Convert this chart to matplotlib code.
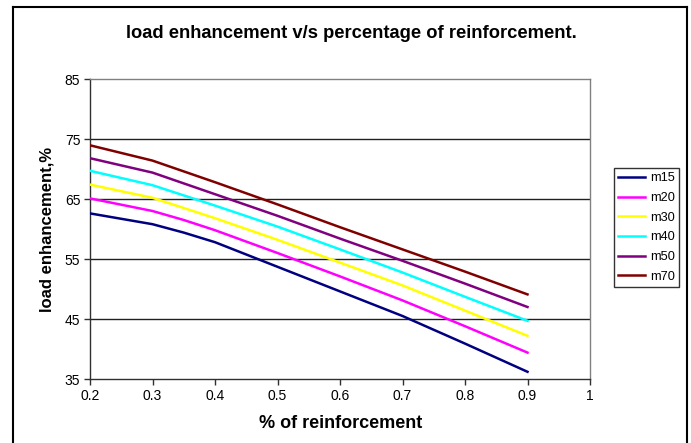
import matplotlib
matplotlib.use("Agg")
import matplotlib.pyplot as plt
from matplotlib.lines import Line2D

reinforcement = [0.2, 0.3, 0.35, 0.4, 0.5, 0.6, 0.7, 0.8, 0.9]
m15 = [62.6, 60.8, 59.4, 57.8, 53.7, 49.6, 45.5, 40.9, 36.2]
m20 = [65.1, 63.0, 61.5, 59.8, 56.0, 52.1, 48.1, 43.8, 39.4]
m30 = [67.4, 65.2, 63.5, 61.8, 58.2, 54.4, 50.6, 46.4, 42.2]
m40 = [69.7, 67.3, 65.6, 63.9, 60.4, 56.6, 52.75, 48.7, 44.7]
m50 = [71.8, 69.4, 67.6, 65.8, 62.2, 58.4, 54.7, 50.9, 47.0]
m70 = [73.95, 71.4, 69.6, 67.8, 64.1, 60.3, 56.6, 52.9, 49.1]

series_names = ["m15", "m20", "m30", "m40", "m50", "m70"]
series_values = [m15, m20, m30, m40, m50, m70]
series_colors = ["#000080", "#FF00FF", "#FFFF00", "#00FFFF", "#800080", "#800000"]

x_ticks = [0.2, 0.3, 0.4, 0.5, 0.6, 0.7, 0.8, 0.9, 1.0]
x_tick_labels = ["0.2", "0.3", "0.4", "0.5", "0.6", "0.7", "0.8", "0.9", "1"]
y_ticks = [35, 45, 55, 65, 75, 85]

plt.rcParams["font.family"] = ["Liberation Sans", "DejaVu Sans"]

W, H = 691, 443
fig = plt.figure(figsize=(W / 100, H / 100), dpi=100)
fig.patch.set_facecolor("white")

# outer chart frame
frame_l, frame_r, frame_t = 13 / W, 687 / W, 1 - 7 / H
for xs, ys in [([frame_l, frame_r], [frame_t, frame_t]),
               ([frame_l, frame_l], [frame_t, -0.05]),
               ([frame_r, frame_r], [frame_t, -0.05])]:
    fig.add_artist(Line2D(xs, ys, transform=fig.transFigure,
                          color="black", lw=1.5, clip_on=False))

ax = fig.add_axes([90 / W, 1 - 379 / H, 500 / W, 300 / H])
ax.set_facecolor("white")

for name, vals, col in zip(series_names, series_values, series_colors):
    ax.plot(reinforcement, vals, color=col, lw=1.8, label=name,
            solid_joinstyle="miter", zorder=3)

ax.set_xlim(0.2, 1.0)
ax.set_ylim(35, 85)
ax.set_xticks(x_ticks)
ax.set_xticklabels(x_tick_labels)
ax.set_yticks(y_ticks)

for y in y_ticks[1:-1]:
    ax.axhline(y, color="#202020", lw=1.0, zorder=1)

ax.spines["left"].set_color("#303030")
ax.spines["bottom"].set_color("#303030")
ax.spines["top"].set_color("#808080")
ax.spines["right"].set_color("#808080")
for s in ax.spines.values():
    s.set_linewidth(1.0)

ax.tick_params(axis="both", direction="out", length=4, width=1,
               color="#303030", labelsize=10, pad=3)

fig.text(351 / W, 1 - 33 / H, "load enhancement v/s percentage of reinforcement.",
         ha="center", va="center", fontsize=13.2, fontweight="bold")
fig.text(341 / W, 1 - 423 / H, "% of reinforcement",
         ha="center", va="center", fontsize=13, fontweight="bold")
fig.text(47 / W, 1 - 229 / H, "load enhancement,%", rotation=90,
         ha="center", va="center", fontsize=12, fontweight="bold")

leg = fig.legend(loc="center left", bbox_to_anchor=(614 / W, 1 - 227.5 / H),
                 bbox_transform=fig.transFigure, fontsize=9.2,
                 frameon=True, fancybox=False, edgecolor="black",
                 handlelength=2.1, handletextpad=0.35, labelspacing=0.6,
                 borderpad=0.35, borderaxespad=0)
leg.get_frame().set_linewidth(1.0)

fig.savefig("out.png", dpi=100)
